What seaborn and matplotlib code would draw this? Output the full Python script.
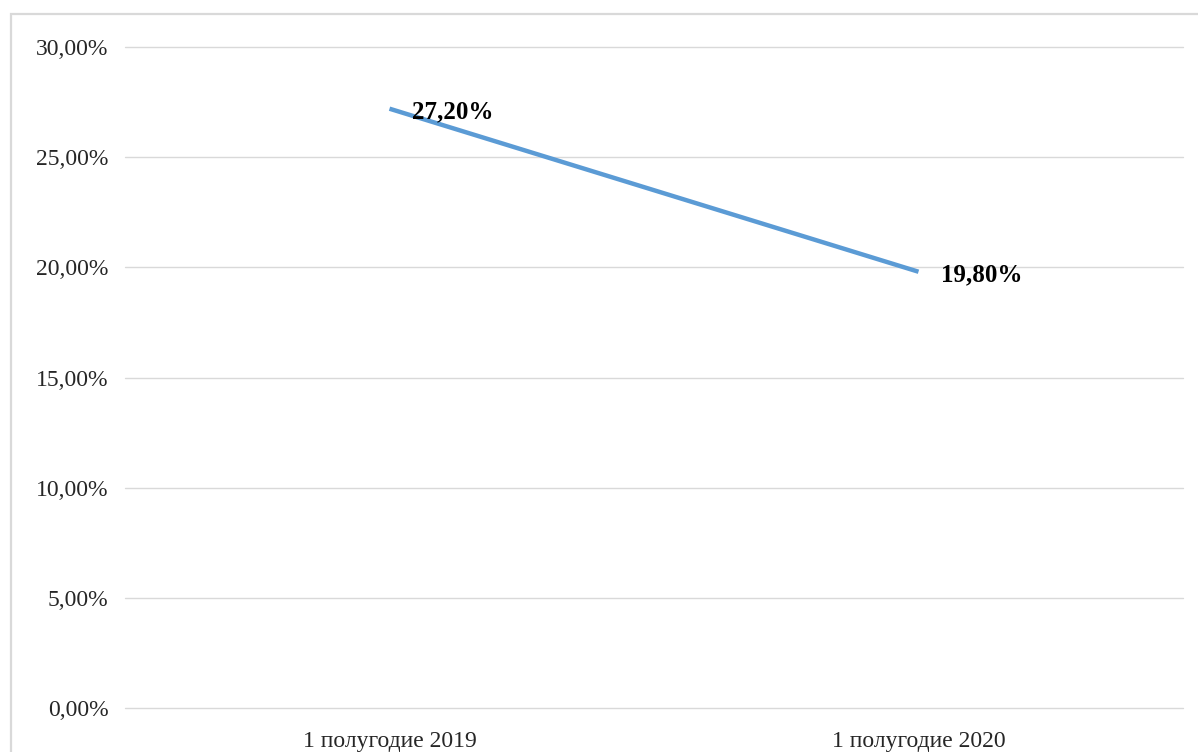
import matplotlib
matplotlib.use("Agg")
import matplotlib.pyplot as plt
import seaborn as sns
import pandas as pd
from matplotlib.patches import Rectangle
from matplotlib.ticker import FuncFormatter

periods = ["1 полугодие 2019", "1 полугодие 2020"]
values = [0.272, 0.198]
labels = ["27,20%", "19,80%"]

sns.set_theme(style="white")
plt.rcParams['font.family'] = ['Liberation Serif', 'DejaVu Serif']

df = pd.DataFrame({"period": periods, "value": values})

fig = plt.figure(figsize=(11.98, 7.52), dpi=100)
ax = fig.add_axes([125/1198, 44/752, (1183-125)/1198, (705-44)/752])

sns.lineplot(data=df, x="period", y="value", ax=ax, color="#5B9BD5", linewidth=3.2,
             solid_capstyle="butt", sort=False)

ax.set_xlim(-0.5, 1.5)
ax.set_ylim(0, 0.30)
ax.set_yticks([0, 0.05, 0.10, 0.15, 0.20, 0.25, 0.30])
ax.yaxis.set_major_formatter(FuncFormatter(lambda v, p: f"{v*100:.2f}%".replace(".", ",")))
ax.grid(axis="y", color="#d9d9d9", linewidth=1)
ax.grid(axis="x", visible=False)
for gl in ax.get_ygridlines():
    gl.set_clip_on(False)
for s in ax.spines.values():
    s.set_visible(False)
ax.set_xlabel("")
ax.set_ylabel("")
ax.tick_params(axis="y", length=0, pad=12, labelsize=17, labelcolor="#262626")
ax.tick_params(axis="x", length=0, pad=16.5, labelsize=17, labelcolor="#262626")

for i, (v, t) in enumerate(zip(values, labels)):
    ax.annotate(t, xy=(i, v), xytext=(16, -2.5), textcoords="offset points",
                ha="left", va="center", fontsize=18, fontweight="bold", color="black")

fig.patches.append(Rectangle((11/1198, -0.1), 1.2, (752-14)/752 + 0.1, transform=fig.transFigure,
                             fill=False, edgecolor="#d9d9d9", linewidth=1.6, zorder=0))

fig.savefig("out.png", dpi=100)
